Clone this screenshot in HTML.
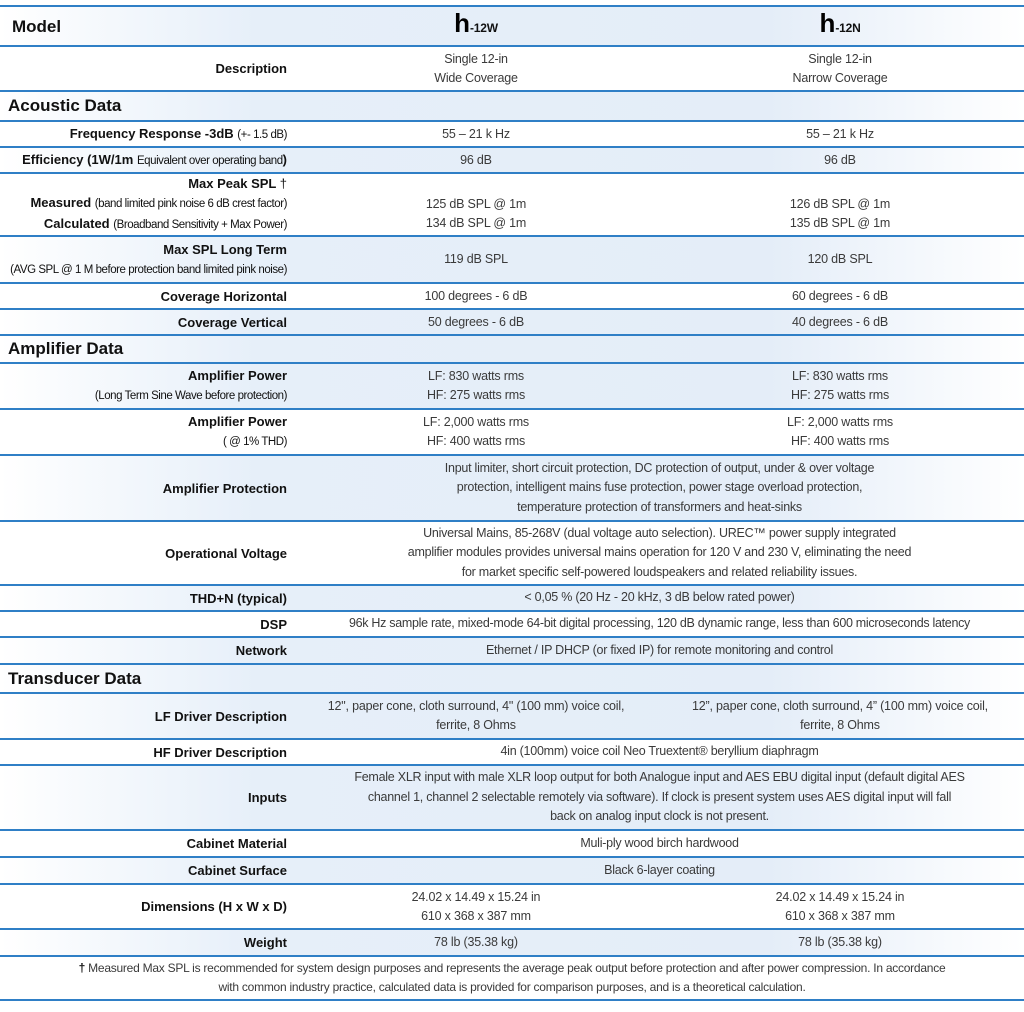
<!DOCTYPE html>
<html><head><meta charset="utf-8"><style>
*{margin:0;padding:0;box-sizing:border-box}
body{width:1024px;height:1012px;background:#fff;position:relative;overflow:hidden;font-family:"Liberation Sans",sans-serif;color:#3a3a3a}
.r{position:absolute;left:0;width:1024px;display:flex;align-items:center;border-top:2px solid #2f7fc6}
.s{background:linear-gradient(to right,#fff 0%,#e6eff9 25%,#e4edf8 75%,#fff 100%)}
.l{width:295px;flex:none;text-align:right;padding-right:8px;font-weight:bold;font-size:13px;color:#111;line-height:19px}
.v{width:362px;flex:none;text-align:center;font-size:12.5px;line-height:19px;letter-spacing:-0.2px}
.v2{width:366px;flex:none;text-align:center;font-size:12.5px;line-height:19px;letter-spacing:-0.2px}
.m{width:729px;flex:none;text-align:center;font-size:12.5px;line-height:19.5px;letter-spacing:-0.25px}
.h{padding-left:8px;font-weight:bold;font-size:17px;color:#111}
.sm{font-weight:normal;font-size:11.5px;letter-spacing:-0.45px}
.big{font-weight:bold;font-size:26px;color:#000;letter-spacing:0}
.mn{font-weight:bold;font-size:12px;color:#111}
.end{position:absolute;left:0;width:1024px;top:999px;border-top:2px solid #2f7fc6}
</style></head><body>

<div class="r s" style="top:5px;height:40px"><div class="l h" style="text-align:left;padding-left:12px;font-size:17px">Model</div><div class="v"><span class="big">h</span><span class="mn">-12W</span></div><div class="v2"><span class="big">h</span><span class="mn">-12N</span></div></div>
<div class="r" style="top:45px;height:45px"><div class="l">Description</div><div class="v">Single 12-in<br>Wide Coverage</div><div class="v2">Single 12-in<br>Narrow Coverage</div></div>
<div class="r s" style="top:90px;height:30px"><div class="h">Acoustic Data</div></div>
<div class="r" style="top:120px;height:26px"><div class="l">Frequency Response -3dB <span class="sm">(+- 1.5 dB)</span></div><div class="v">55 – 21 k Hz</div><div class="v2">55 – 21 k Hz</div></div>
<div class="r s" style="top:146px;height:26px"><div class="l">Efficiency (1W/1m <span class="sm">Equivalent over operating band</span>)</div><div class="v">96 dB</div><div class="v2">96 dB</div></div>
<div class="r" style="top:172px;height:63px"><div class="l">Max Peak SPL <span style="font-weight:normal">†</span><br>Measured <span class="sm">(band limited pink noise 6 dB crest factor)</span><br>Calculated <span class="sm">(Broadband Sensitivity + Max Power)</span></div><div class="v"><br>125 dB SPL @ 1m<br>134 dB SPL @ 1m</div><div class="v2"><br>126 dB SPL @ 1m<br>135 dB SPL @ 1m</div></div>
<div class="r s" style="top:235px;height:47px"><div class="l">Max SPL Long Term<br><span class="sm">(AVG SPL @ 1 M before protection band limited pink noise)</span></div><div class="v">119 dB SPL</div><div class="v2">120 dB SPL</div></div>
<div class="r" style="top:282px;height:26px"><div class="l">Coverage Horizontal</div><div class="v">100 degrees - 6 dB</div><div class="v2">60 degrees - 6 dB</div></div>
<div class="r s" style="top:308px;height:26px"><div class="l">Coverage Vertical</div><div class="v">50 degrees - 6 dB</div><div class="v2">40 degrees - 6 dB</div></div>
<div class="r s" style="top:334px;height:28px"><div class="h">Amplifier Data</div></div>
<div class="r s" style="top:362px;height:46px"><div class="l">Amplifier Power<br><span class="sm">(Long Term Sine Wave before protection)</span></div><div class="v">LF: 830 watts rms<br>HF: 275 watts rms</div><div class="v2">LF: 830 watts rms<br>HF: 275 watts rms</div></div>
<div class="r" style="top:408px;height:46px"><div class="l">Amplifier Power<br><span class="sm">( @ 1% THD)</span></div><div class="v">LF: 2,000 watts rms<br>HF: 400 watts rms</div><div class="v2">LF: 2,000 watts rms<br>HF: 400 watts rms</div></div>
<div class="r s" style="top:454px;height:66px"><div class="l">Amplifier Protection</div><div class="m">Input limiter, short circuit protection, DC protection of output, under &amp; over voltage<br>protection, intelligent mains fuse protection, power stage overload protection,<br>temperature protection of transformers and heat-sinks</div></div>
<div class="r" style="top:520px;height:64px"><div class="l">Operational Voltage</div><div class="m">Universal Mains, 85-268V (dual voltage auto selection). UREC™ power supply integrated<br>amplifier modules provides universal mains operation for 120 V and 230 V, eliminating the need<br>for market specific self-powered loudspeakers and related reliability issues.</div></div>
<div class="r s" style="top:584px;height:26px"><div class="l">THD+N (typical)</div><div class="m">&lt; 0,05 % (20 Hz - 20 kHz, 3 dB below rated power)</div></div>
<div class="r" style="top:610px;height:26px"><div class="l">DSP</div><div class="m" style="letter-spacing:-0.3px">96k Hz sample rate, mixed-mode 64-bit digital processing, 120 dB dynamic range, less than 600 microseconds latency</div></div>
<div class="r s" style="top:636px;height:27px"><div class="l">Network</div><div class="m">Ethernet / IP DHCP (or fixed IP) for remote monitoring and control</div></div>
<div class="r s" style="top:663px;height:29px"><div class="h">Transducer Data</div></div>
<div class="r s" style="top:692px;height:46px"><div class="l">LF Driver Description</div><div class="v">12", paper cone, cloth surround, 4" (100 mm) voice coil,<br>ferrite, 8 Ohms</div><div class="v2">12”, paper cone, cloth surround, 4” (100 mm) voice coil,<br>ferrite, 8 Ohms</div></div>
<div class="r" style="top:738px;height:26px"><div class="l">HF Driver Description</div><div class="m">4in (100mm) voice coil Neo Truextent® beryllium diaphragm</div></div>
<div class="r s" style="top:764px;height:65px"><div class="l">Inputs</div><div class="m">Female XLR input with male XLR loop output for both Analogue input and AES EBU digital input (default digital AES<br>channel 1, channel 2 selectable remotely via software). If clock is present system uses AES digital input will fall<br>back on analog input clock is not present.</div></div>
<div class="r" style="top:829px;height:27px"><div class="l">Cabinet Material</div><div class="m">Muli-ply wood birch hardwood</div></div>
<div class="r s" style="top:856px;height:27px"><div class="l">Cabinet Surface</div><div class="m">Black 6-layer coating</div></div>
<div class="r" style="top:883px;height:45px"><div class="l">Dimensions (H x W x D)</div><div class="v">24.02 x 14.49 x 15.24 in<br>610 x 368 x 387 mm</div><div class="v2">24.02 x 14.49 x 15.24 in<br>610 x 368 x 387 mm</div></div>
<div class="r s" style="top:928px;height:27px"><div class="l">Weight</div><div class="v">78 lb (35.38 kg)</div><div class="v2">78 lb (35.38 kg)</div></div>
<div class="r" style="top:955px;height:44px"><div style="width:1024px;text-align:center;font-size:12px;line-height:19px;letter-spacing:-0.25px"><b style="color:#111">†</b> Measured Max SPL is recommended for system design purposes and represents the average peak output before protection and after power compression. In accordance<br>with common industry practice, calculated data is provided for comparison purposes, and is a theoretical calculation.</div></div>
<div class="end"></div>
</body></html>
